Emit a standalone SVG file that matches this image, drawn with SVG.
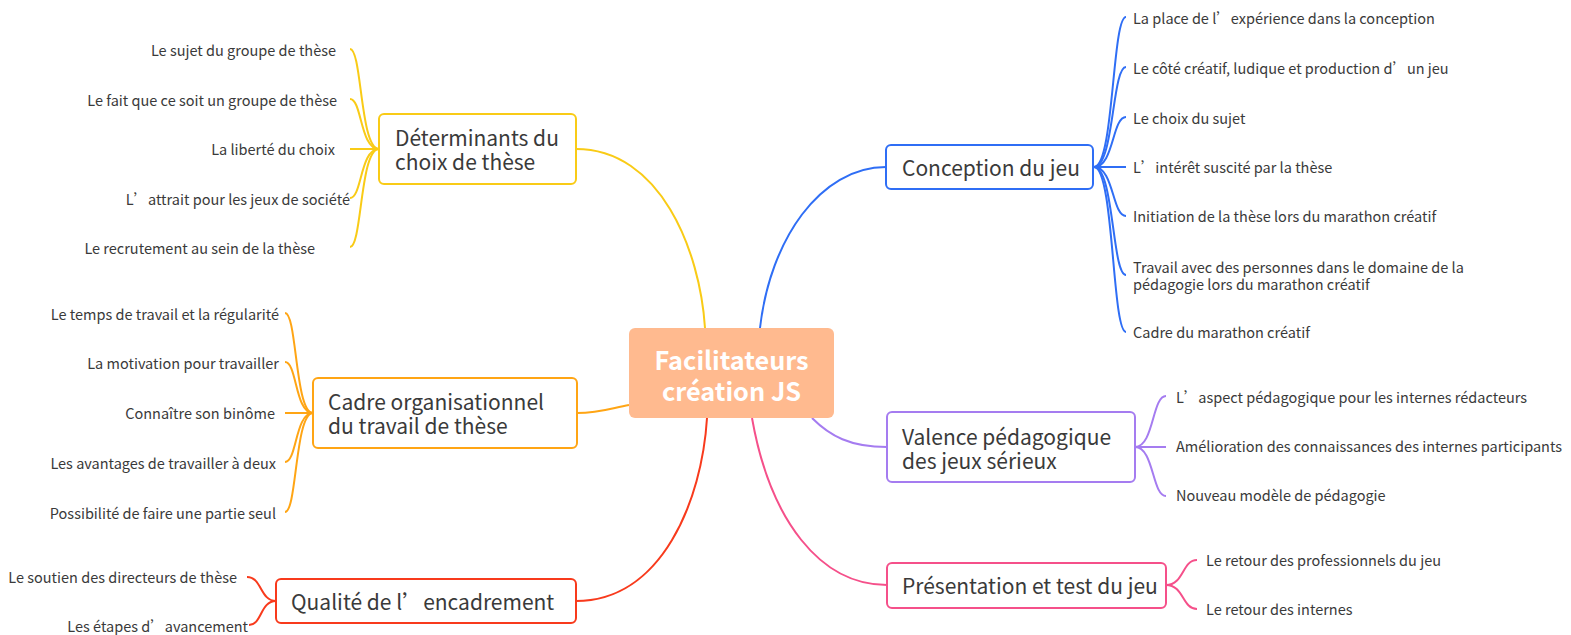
<svg xmlns="http://www.w3.org/2000/svg" width="1571" height="635" viewBox="0 0 1571 635">
<style>
text{font-family:"Noto Sans CJK SC","Source Sans Pro","Liberation Sans",sans-serif;fill:#3a3a3a}
.c{font-size:14.5px;dominant-baseline:central}
.m{font-size:21px;dominant-baseline:central}
.r{text-anchor:end}
.box{fill:#fff;stroke-width:2}
.ln{fill:none;stroke-width:2}
.y{stroke:#F9CB16}.o{stroke:#FFA514}.rd{stroke:#F83A1C}.b{stroke:#2F6EF5}.p{stroke:#A57CF0}.k{stroke:#F5508A}
</style>
<rect width="1571" height="635" fill="#fff"/>
<g id="connectors">
<path class="ln y" d="M576,149 C660,149 700,250 705,328"/>
<path class="ln b" d="M760,328 C770,240 820,167 886,167"/>
<path class="ln o" d="M577,413 C600,413 612,408 629,405"/>
<path class="ln rd" d="M576,601 C662,601 702,500 707,418"/>
<path class="ln p" d="M812,418 C830,436 850,447 887,447"/>
<path class="ln k" d="M752,418 C770,520 820,585 887,585"/>
<path class="ln y" d="M350,49 C362,49 360,149 379,149"/>
<path class="ln y" d="M350,99 C362,99 360,149 379,149"/>
<path class="ln y" d="M350,149 L379,149"/>
<path class="ln y" d="M350,198 C362,198 360,149 379,149"/>
<path class="ln y" d="M350,247 C362,247 360,149 379,149"/>
<path class="ln o" d="M285,313 C297,313 295,413 313,413"/>
<path class="ln o" d="M285,362 C297,362 295,413 313,413"/>
<path class="ln o" d="M285,413 L313,413"/>
<path class="ln o" d="M285,462 C297,462 295,413 313,413"/>
<path class="ln o" d="M285,512 C297,512 295,413 313,413"/>
<path class="ln rd" d="M247,577 C262,577 260,601 276,601"/>
<path class="ln rd" d="M249,625 C262,625 260,601 276,601"/>
<path class="ln b" d="M1126,17 C1112,17 1114,167 1094,167"/>
<path class="ln b" d="M1126,67 C1112,67 1114,167 1094,167"/>
<path class="ln b" d="M1126,117 C1112,117 1114,167 1094,167"/>
<path class="ln b" d="M1126,167 L1094,167"/>
<path class="ln b" d="M1126,216 C1112,216 1114,167 1094,167"/>
<path class="ln b" d="M1126,275 C1112,275 1114,167 1094,167"/>
<path class="ln b" d="M1126,332 C1112,332 1114,167 1094,167"/>
<path class="ln p" d="M1166,396 C1152,396 1154,447 1135,447"/>
<path class="ln p" d="M1166,447 L1135,447"/>
<path class="ln p" d="M1166,496 C1152,496 1154,447 1135,447"/>
<path class="ln k" d="M1197,560 C1182,560 1184,585 1166,585"/>
<path class="ln k" d="M1197,609 C1182,609 1184,585 1166,585"/>
</g>
<g id="central">
<rect x="629" y="328" width="205" height="90" rx="6" fill="#FFBA8F"/>
<text x="731.5" y="359" text-anchor="middle" dominant-baseline="central" font-size="25.3" font-weight="bold" style="fill:#fff">Facilitateurs</text>
<text x="731.5" y="390" text-anchor="middle" dominant-baseline="central" font-size="25.3" font-weight="bold" style="fill:#fff">création JS</text>
</g>
<g id="determinants">
<rect class="box y" x="379" y="114" width="197" height="70" rx="5"/>
<text class="m" x="395" y="137">Déterminants du</text>
<text class="m" x="395" y="161">choix de thèse</text>
</g>
<g id="det-children">
<text class="c r" x="336" y="49">Le sujet du groupe de thèse</text>
<text class="c r" x="337" y="99">Le fait que ce soit un groupe de thèse</text>
<text class="c r" x="335" y="148">La liberté du choix</text>
<text class="c r" x="350" y="198">L’attrait pour les jeux de société</text>
<text class="c r" x="315" y="247">Le recrutement au sein de la thèse</text>
</g>
<g id="cadre">
<rect class="box o" x="313" y="378" width="264" height="70" rx="5"/>
<text class="m" x="328" y="401">Cadre organisationnel</text>
<text class="m" x="328" y="425">du travail de thèse</text>
</g>
<g id="cadre-children">
<text class="c r" x="279" y="313">Le temps de travail et la régularité</text>
<text class="c r" x="279" y="362">La motivation pour travailler</text>
<text class="c r" x="275" y="412">Connaître son binôme</text>
<text class="c r" x="276" y="462">Les avantages de travailler à deux</text>
<text class="c r" x="276" y="512">Possibilité de faire une partie seul</text>
</g>
<g id="qualite">
<rect class="box rd" x="276" y="579" width="300" height="44" rx="5"/>
<text class="m" x="291" y="601">Qualité de l’encadrement</text>
</g>
<g id="qualite-children">
<text class="c r" x="237" y="576">Le soutien des directeurs de thèse</text>
<text class="c r" x="248" y="625">Les étapes d’avancement</text>
</g>
<g id="conception">
<rect class="box b" x="886" y="145" width="207" height="44" rx="5"/>
<text class="m" x="902" y="167">Conception du jeu</text>
</g>
<g id="conception-children">
<text class="c" x="1133" y="17">La place de l’expérience dans la conception</text>
<text class="c" x="1133" y="67">Le côté créatif, ludique et production d’un jeu</text>
<text class="c" x="1133" y="117">Le choix du sujet</text>
<text class="c" x="1133" y="166">L’intérêt suscité par la thèse</text>
<text class="c" x="1133" y="215">Initiation de la thèse lors du marathon créatif</text>
<text class="c" x="1133" y="266">Travail avec des personnes dans le domaine de la</text>
<text class="c" x="1133" y="283">pédagogie lors du marathon créatif</text>
<text class="c" x="1133" y="331">Cadre du marathon créatif</text>
</g>
<g id="valence">
<rect class="box p" x="887" y="412" width="248" height="70" rx="5"/>
<text class="m" x="902" y="436">Valence pédagogique</text>
<text class="m" x="902" y="460">des jeux sérieux</text>
</g>
<g id="valence-children">
<text class="c" x="1176" y="396">L’aspect pédagogique pour les internes rédacteurs</text>
<text class="c" x="1176" y="445">Amélioration des connaissances des internes participants</text>
<text class="c" x="1176" y="494">Nouveau modèle de pédagogie</text>
</g>
<g id="presentation">
<rect class="box k" x="887" y="563" width="279" height="45" rx="5"/>
<text class="m" x="902" y="585">Présentation et test du jeu</text>
</g>
<g id="presentation-children">
<text class="c" x="1206" y="559">Le retour des professionnels du jeu</text>
<text class="c" x="1206" y="608">Le retour des internes</text>
</g>
</svg>
